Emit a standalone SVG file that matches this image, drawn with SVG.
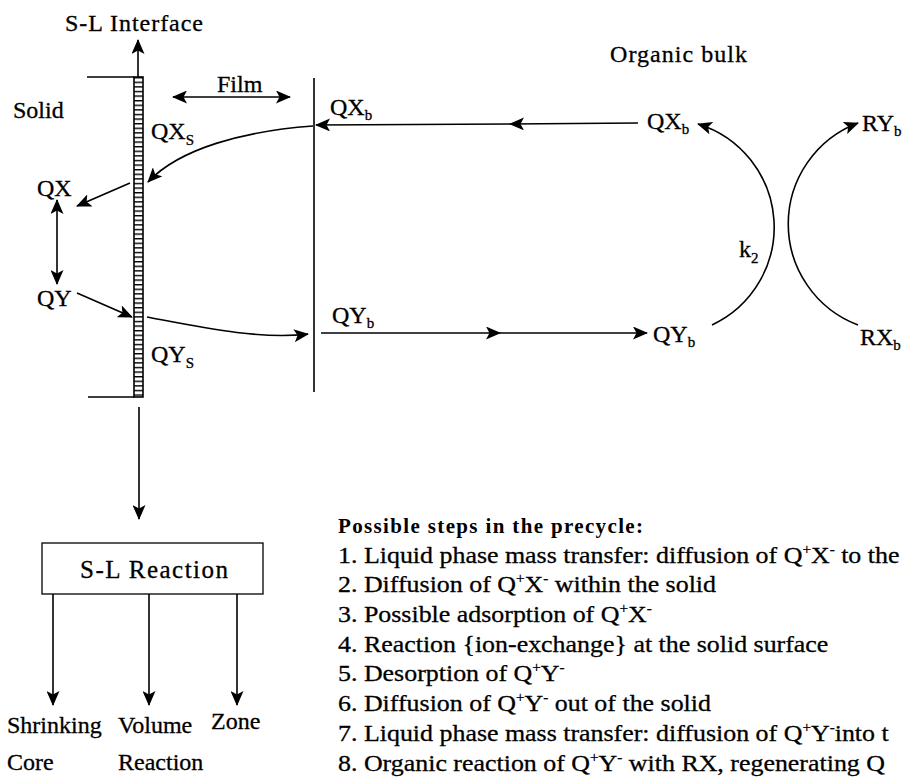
<svg xmlns="http://www.w3.org/2000/svg" width="911" height="778" viewBox="0 0 911 778">
<defs>
<style>
.t{font-family:"Liberation Serif","Times New Roman",serif;font-size:24px;fill:#000;stroke:#000;stroke-width:0.3}
.sub{font-size:15px}
.sup{font-size:14px}
.hd{font-family:"Liberation Serif","Times New Roman",serif;font-size:21px;font-weight:bold;fill:#000}
.ln{stroke:#000;stroke-width:1.6;fill:none}
.ar{marker-end:url(#ah)}
.ar2{marker-start:url(#ah);marker-end:url(#ah)}
.mid{marker-mid:url(#ah);marker-end:url(#ah)}
</style>
<marker id="ah" viewBox="0 0 15 13" refX="14" refY="6.5" markerWidth="15" markerHeight="13" markerUnits="userSpaceOnUse" orient="auto-start-reverse">
<path d="M0,0 L15,6.5 L0,13 L3.5,6.5 z" fill="#000"/>
</marker>
<pattern id="rungs" x="0" y="77" width="20" height="4.6" patternUnits="userSpaceOnUse">
<rect x="0" y="0" width="20" height="1.4" fill="#000"/>
</pattern>
</defs>
<rect width="911" height="778" fill="#fff"/>

<g id="solid-side">
<path class="ln" d="M87,77 L134,77 M88,397 L134,397"/>
<text class="t" x="13" y="118">Solid</text>
</g>
<g id="interface">
<rect x="134" y="77" width="9" height="320" fill="url(#rungs)" stroke="#000" stroke-width="1.6"/>
<text class="t" x="65" y="31" textLength="138">S-L Interface</text>
</g>
<g id="film">
<line class="ln" x1="314" y1="78" x2="314" y2="392"/>
<text class="t" x="217" y="92">Film</text>
</g>
<g id="qx-solid"><text class="t" x="37" y="196">QX</text></g>
<g id="qy-solid"><text class="t" x="37" y="306">QY</text></g>
<g id="qxs"><text class="t" x="151" y="139">QX<tspan class="sub" dy="6">S</tspan></text></g>
<g id="qys"><text class="t" x="151" y="362">QY<tspan class="sub" dy="6">S</tspan></text></g>
<g id="qxb-film"><text class="t" x="330" y="115">QX<tspan class="sub" dy="5">b</tspan></text></g>
<g id="qyb-film"><text class="t" x="332" y="323">QY<tspan class="sub" dy="5">b</tspan></text></g>
<g id="organic-bulk"><text class="t" x="610" y="62" textLength="137">Organic bulk</text></g>
<g id="qxb-bulk"><text class="t" x="647" y="129">QX<tspan class="sub" dy="5">b</tspan></text></g>
<g id="qyb-bulk"><text class="t" x="653" y="342">QY<tspan class="sub" dy="5">b</tspan></text></g>
<g id="ryb"><text class="t" x="862" y="131">RY<tspan class="sub" dy="5">b</tspan></text></g>
<g id="rxb"><text class="t" x="860" y="345">RX<tspan class="sub" dy="5">b</tspan></text></g>
<g id="k2"><text class="t" x="739" y="257">k<tspan class="sub" dy="6">2</tspan></text></g>

<g id="sl-reaction">
<rect x="42" y="543" width="221" height="51" fill="#fff" stroke="#000" stroke-width="1.3"/>
<text class="t" x="80" y="578" style="font-size:25px" textLength="148">S-L Reaction</text>
</g>
<g id="shrinking-core"><text class="t" x="7" y="733">Shrinking</text><text class="t" x="7" y="770">Core</text></g>
<g id="volume-reaction"><text class="t" x="118" y="733">Volume</text><text class="t" x="118" y="770">Reaction</text></g>
<g id="zone"><text class="t" x="211" y="729">Zone</text></g>

<g id="connectors">
<line class="ln ar" x1="138" y1="77" x2="138" y2="40"/>
<line class="ln ar2" x1="173" y1="97" x2="290" y2="97"/>
<path class="ln mid" d="M638,123 L510,124 L316,125"/>
<path class="ln ar" d="M313,126 C245,131 180,148 148,182"/>
<path class="ln ar" d="M130,183 L77,206"/>
<path class="ln ar2" d="M57,200 L57,284"/>
<path class="ln ar" d="M77,293 L132,317"/>
<path class="ln ar" d="M147,317 C200,327 260,340 308,334"/>
<path class="ln mid" d="M321,333 L500,333 L647,333"/>
<path class="ln ar" d="M712,325 A108,108 0 0 0 698,124"/>
<path class="ln ar" d="M858,325 A108,108 0 0 1 858,123"/>
<line class="ln ar" x1="139" y1="407" x2="139" y2="519"/>
<line class="ln ar" x1="53" y1="594" x2="53" y2="705"/>
<line class="ln ar" x1="149" y1="594" x2="149" y2="705"/>
<line class="ln ar" x1="237" y1="594" x2="237" y2="705"/>
</g>

<g id="steps">
<text class="hd" x="338" y="533" textLength="305">Possible steps in the precycle:</text>
<g transform="translate(338,0) scale(1.08,1)">
<text class="t" x="0" y="563">1. Liquid phase mass transfer: diffusion of Q<tspan class="sup" dy="-9">+</tspan><tspan dy="9">X</tspan><tspan class="sup" dy="-9">-</tspan><tspan dy="9"> to the</tspan></text>
<text class="t" x="0" y="592">2. Diffusion of Q<tspan class="sup" dy="-9">+</tspan><tspan dy="9">X</tspan><tspan class="sup" dy="-9">-</tspan><tspan dy="9"> within the solid</tspan></text>
<text class="t" x="0" y="622">3. Possible adsorption of Q<tspan class="sup" dy="-9">+</tspan><tspan dy="9">X</tspan><tspan class="sup" dy="-9">-</tspan></text>
<text class="t" x="0" y="652">4. Reaction {ion-exchange} at the solid surface</text>
<text class="t" x="0" y="681">5. Desorption of Q<tspan class="sup" dy="-9">+</tspan><tspan dy="9">Y</tspan><tspan class="sup" dy="-9">-</tspan></text>
<text class="t" x="0" y="711">6. Diffusion of Q<tspan class="sup" dy="-9">+</tspan><tspan dy="9">Y</tspan><tspan class="sup" dy="-9">-</tspan><tspan dy="9"> out of the solid</tspan></text>
<text class="t" x="0" y="741">7. Liquid phase mass transfer: diffusion of  Q<tspan class="sup" dy="-9">+</tspan><tspan dy="9">Y</tspan><tspan class="sup" dy="-9">-</tspan><tspan dy="9">into t</tspan></text>
<text class="t" x="0" y="771">8. Organic reaction of Q<tspan class="sup" dy="-9">+</tspan><tspan dy="9">Y</tspan><tspan class="sup" dy="-9">-</tspan><tspan dy="9"> with RX, regenerating Q</tspan></text>
</g>
</g>
</svg>
